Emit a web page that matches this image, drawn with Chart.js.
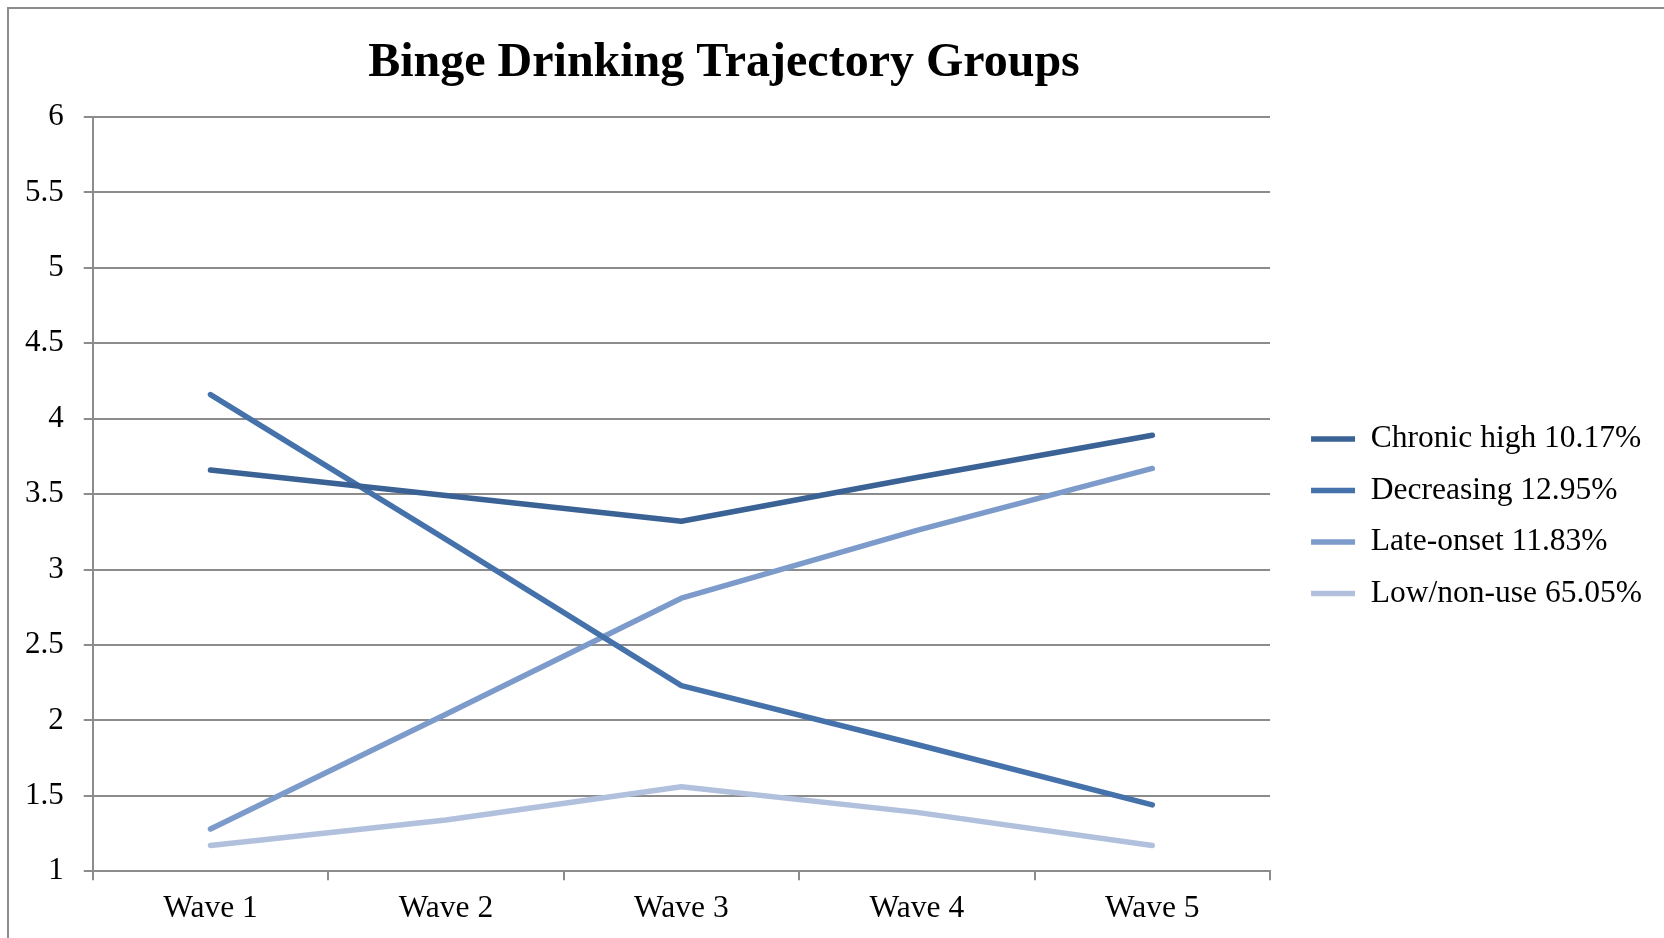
<!DOCTYPE html>
<html>
<head>
<meta charset="utf-8">
<script src="https://cdn.jsdelivr.net/npm/chart.js@4"></script>
<style>
  body { margin: 0; background: #fff; }
  #wrap { position: relative; width: 1664px; height: 938px; }
  /* chart frame, only top and left edges are visible in the original */
  #frame {
    position: absolute; left: 7px; top: 7px; right: 0; bottom: 0;
    border-top: 2px solid #8c8c8c; border-left: 2px solid #8c8c8c;
  }
  #chart { position: absolute; left: 0; top: 0; }
</style>
</head>
<body>
<div id="wrap">
  <div id="frame"></div>
  <canvas id="chart" width="1664" height="938"></canvas>
</div>
<script>
// Data

const chartTitle = "Binge Drinking Trajectory Groups";
const waves = ["Wave 1", "Wave 2", "Wave 3", "Wave 4", "Wave 5"];
const groupNames = [
  "Chronic high 10.17%",
  "Decreasing 12.95%",
  "Late-onset 11.83%",
  "Low/non-use 65.05%",
];
const chronicHigh = [3.66, 3.49, 3.32, 3.61, 3.89];
const decreasing = [4.16, 3.20, 2.23, 1.84, 1.44];
const lateOnset = [1.28, 2.04, 2.81, 3.26, 3.67];
const lowNonUse = [1.17, 1.34, 1.56, 1.39, 1.17];
const yMin = 1;
const yMax = 6;
const yStep = 0.5;

const lineColors = ["#3a6295", "#4572ab", "#7c9bcb", "#b1c1dd"];
const gridColor = "#8c8c8c";

Chart.defaults.font.family = '"Liberation Serif", "Times New Roman", serif';
Chart.defaults.color = "#000";

// draws the title centred over the plot + legend block like the original
const titlePlugin = {
  id: "centeredTitle",
  afterDraw(chart) {
    const ctx = chart.ctx;
    ctx.save();
    ctx.font = 'bold 48px "Liberation Serif", "Times New Roman", serif';
    ctx.fillStyle = "#000";
    ctx.textAlign = "center";
    ctx.textBaseline = "middle";
    ctx.fillText(chartTitle, 724, 64);
    ctx.restore();
  },
};

const seriesValues = [chronicHigh, decreasing, lateOnset, lowNonUse];

const lineData = {
  labels: waves,
  datasets: seriesValues.map((values, i) => ({
    label: groupNames[i],
    data: values,
    borderColor: lineColors[i],
    backgroundColor: lineColors[i],
    borderWidth: 5.5,
    borderCapStyle: "round",
    borderJoinStyle: "round",
    pointRadius: 0,
    pointHoverRadius: 0,
    tension: 0,
    fill: false,
  })),
};

const lineOptions = {
  responsive: false,
  animation: false,
  devicePixelRatio: 1,
  layout: {
    padding: { top: 117, left: 5, right: 12, bottom: 0 },
  },
  scales: {
    x: {
      offset: true,
      grid: {
        offset: true,
        drawOnChartArea: false,
        drawTicks: true,
        tickLength: 9,
        color: gridColor,
        lineWidth: 2,
      },
      border: { color: gridColor, width: 2 },
      ticks: {
        padding: 10,
        font: { size: 31.5 },
        color: "#000",
      },
    },
    y: {
      min: yMin,
      max: yMax,
      grid: {
        color: gridColor,
        lineWidth: 2,
        tickLength: 9,
      },
      border: { color: gridColor, width: 2 },
      ticks: {
        stepSize: yStep,
        padding: 20,
        font: { size: 31 },
        color: "#000",
        callback: (value) => String(value),
      },
    },
    // empty spacer between plot and legend
    spacer: {
      position: "right",
      display: true,
      grid: { display: false },
      border: { display: false },
      ticks: { display: false },
      afterFit(scale) {
        scale.width = 21;
      },
    },
  },
  plugins: {
    title: { display: false },
    tooltip: { enabled: false },
    legend: {
      position: "right",
      fullSize: false,
      maxWidth: 420,
      title: {
        display: true,
        text: "",
        padding: { top: 30, bottom: 0 },
        font: { size: 12 },
      },
      labels: {
        usePointStyle: true,
        pointStyle: "line",
        pointStyleWidth: 44,
        padding: 20,
        font: { size: 31.5 },
        color: "#000",
      },
    },
  },
};

const chartCanvas = document.getElementById("chart");
new Chart(chartCanvas.getContext("2d"), {
  type: "line",
  data: lineData,
  options: lineOptions,
  plugins: [titlePlugin],
});
</script>
</body>
</html>
